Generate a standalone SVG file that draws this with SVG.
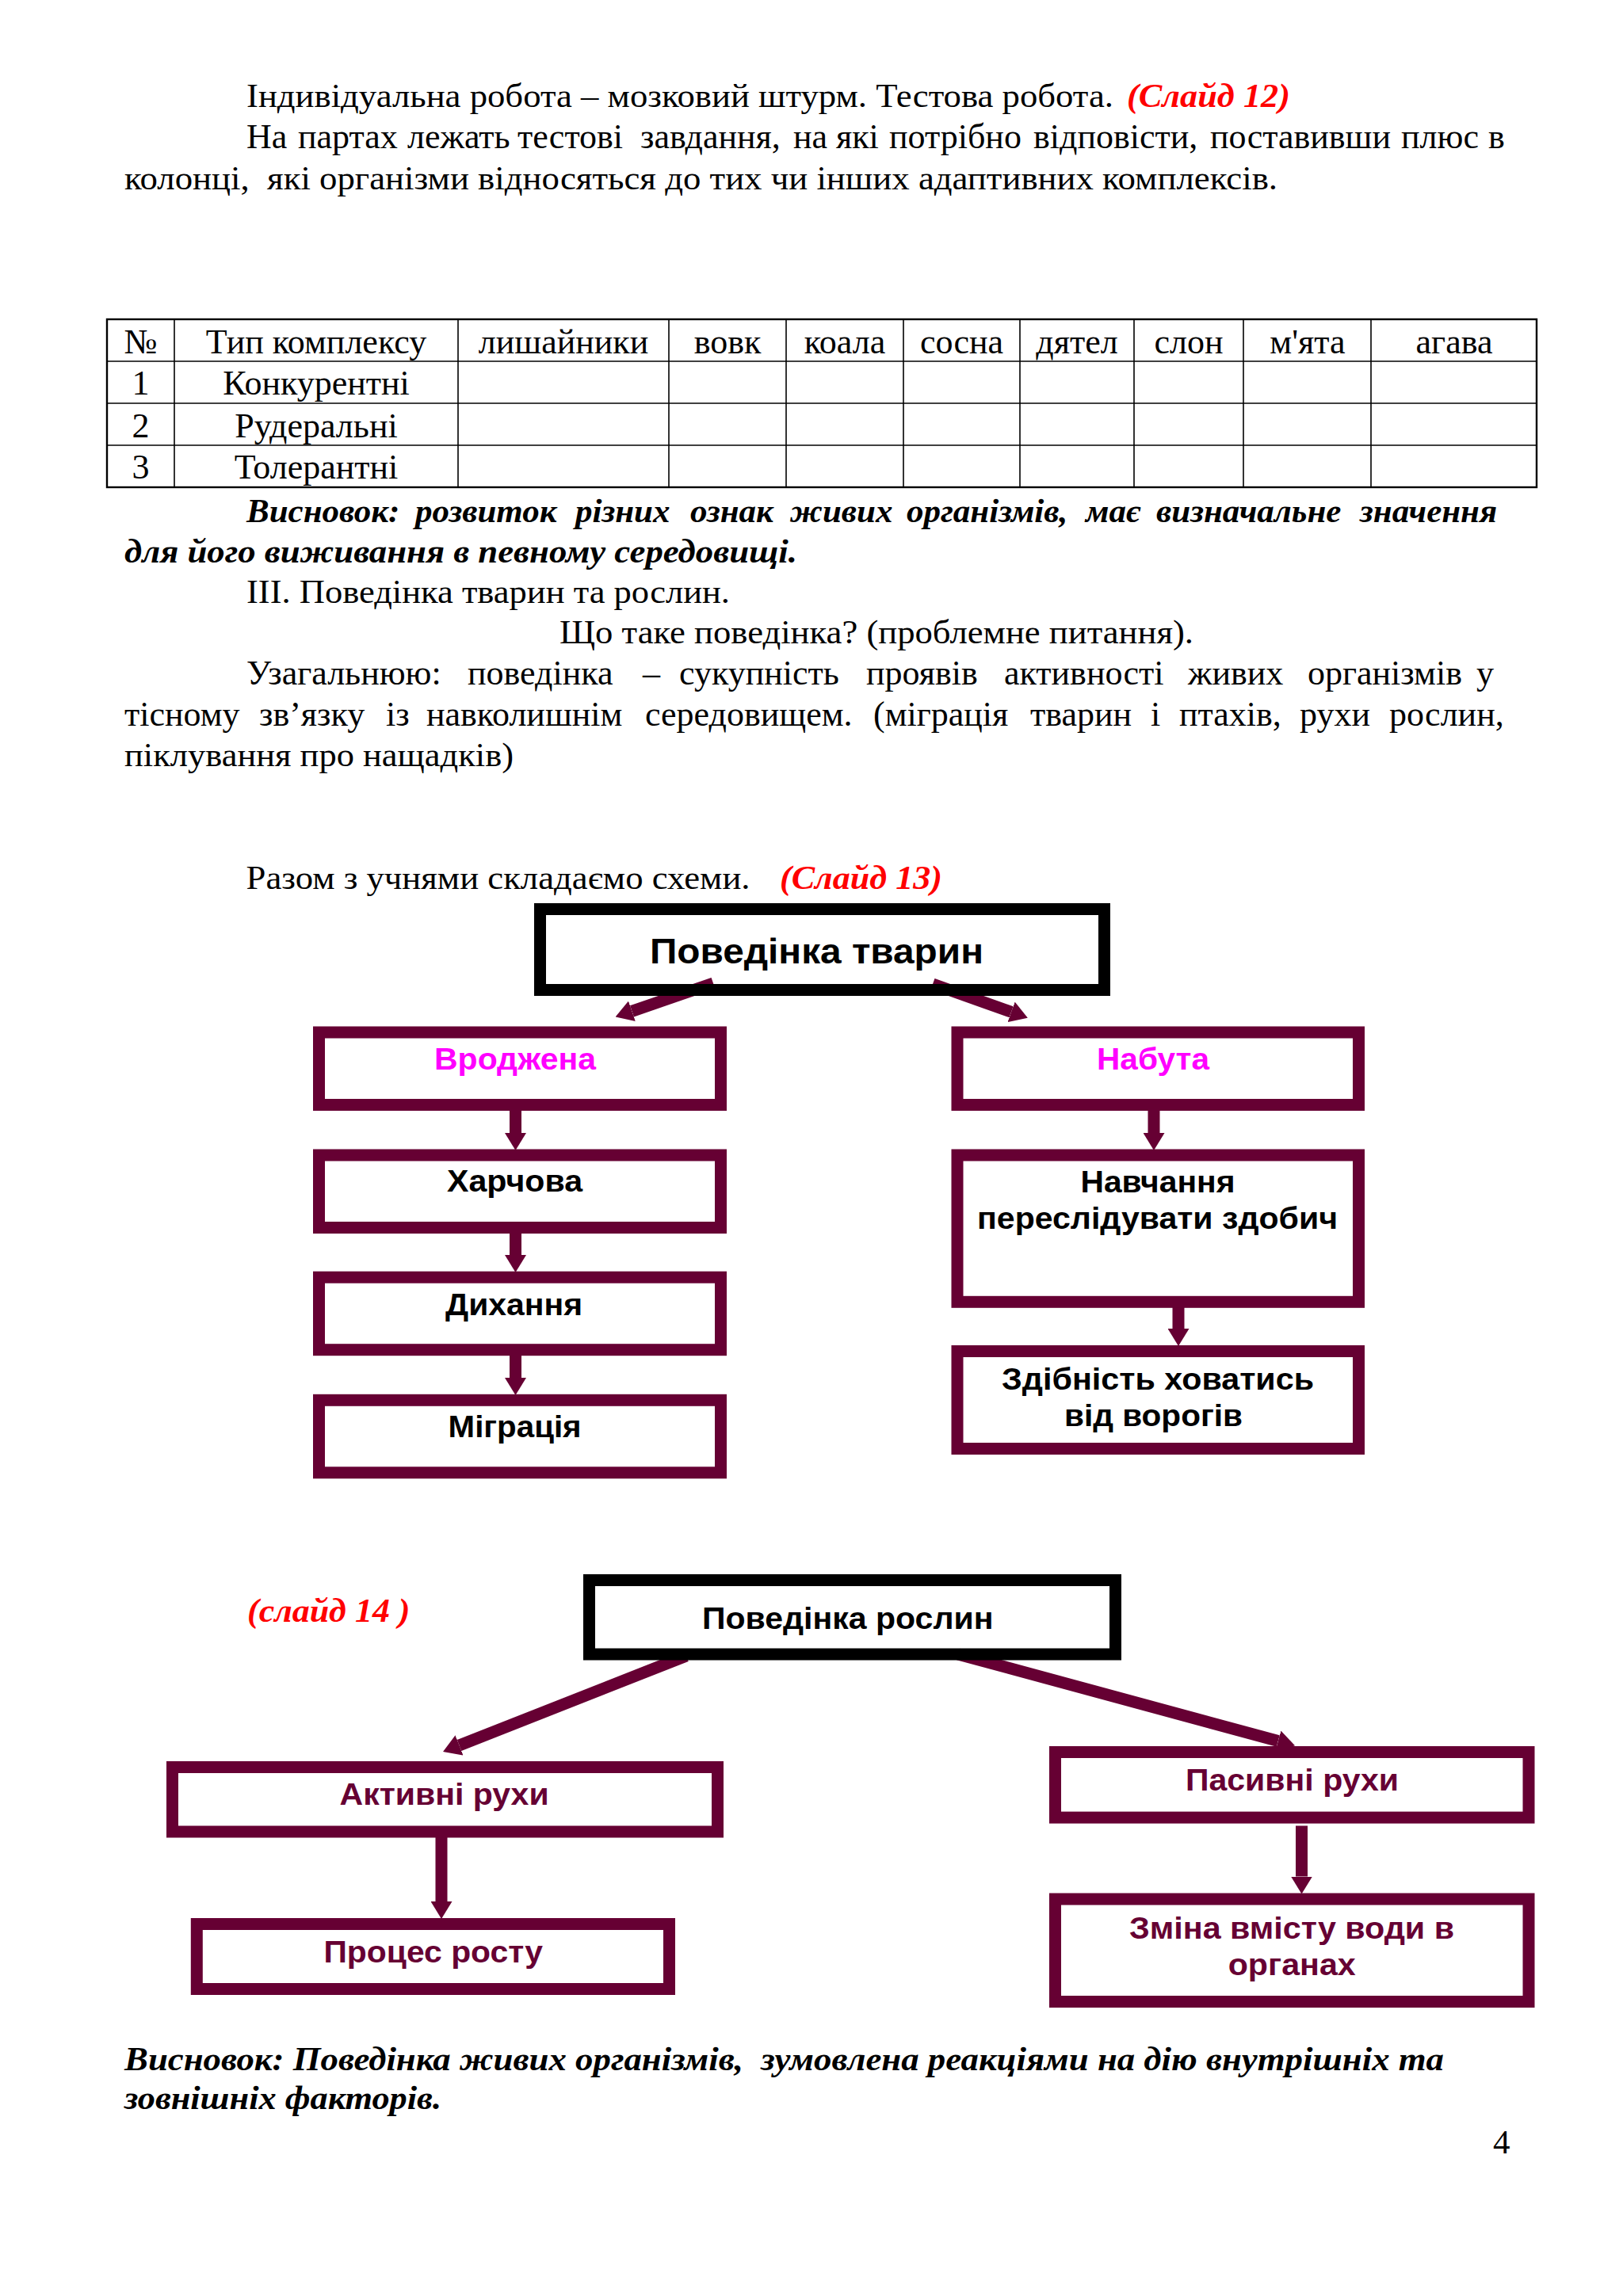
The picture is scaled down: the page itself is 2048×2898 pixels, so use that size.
<svg xmlns="http://www.w3.org/2000/svg" width="2048" height="2898" viewBox="0 0 2048 2898">
<defs>
<style>
.t{font-family:"Liberation Serif","Times New Roman",serif;font-size:43px;fill:#000}
.tb{font-size:44px}
.bi{font-weight:bold;font-style:italic}
.red{fill:#ff0000}
.c{text-anchor:middle}
.d{font-family:"Liberation Sans",Arial,sans-serif;font-weight:bold;font-size:38px;fill:#000}
.mag{fill:#ff00ff}
.mar{fill:#660033}
.bk{fill:none;stroke:#000;stroke-width:15}
.bm{fill:#fff;stroke:#660033;stroke-width:15}
.tl{stroke:#000;stroke-width:1.6;fill:none}
.to{stroke:#000;stroke-width:2.4;fill:none}
.ar{stroke:#660033;stroke-width:15;fill:none;marker-end:url(#ah)}
</style>
<marker id="ah" markerUnits="userSpaceOnUse" markerWidth="22" markerHeight="27" viewBox="0 0 22 27" refX="0" refY="13.5" orient="auto">
<path d="M0,0 L22,13.5 L0,27 Z" fill="#660033"/>
</marker>
</defs>
<rect width="2048" height="2898" fill="#fff"/>

<g id="text-top">
<text class="t" x="311" y="135" textLength="1094" lengthAdjust="spacingAndGlyphs">Індивідуальна робота – мозковий штурм. Тестова робота.</text>
<text class="t bi red" x="1422" y="135" textLength="206" lengthAdjust="spacingAndGlyphs">(Слайд 12)</text>
<text class="t tb" y="187"><tspan x="311">На</tspan> <tspan x="376">партах</tspan> <tspan x="514">лежать</tspan> <tspan x="653">тестові</tspan> <tspan x="808">завдання,</tspan> <tspan x="1001">на</tspan> <tspan x="1055">які</tspan> <tspan x="1122">потрібно</tspan> <tspan x="1304">відповісти,</tspan> <tspan x="1527">поставивши</tspan> <tspan x="1768">плюс</tspan> <tspan x="1878">в</tspan></text>
<text class="t" x="157" y="239" textLength="1455" lengthAdjust="spacingAndGlyphs" xml:space="preserve">колонці,  які організми відносяться до тих чи інших адаптивних комплексів.</text>
</g>

<g id="table">
<rect class="to" x="135" y="403" width="1804" height="212"/>
<line class="tl" x1="135" y1="456" x2="1939" y2="456"/>
<line class="tl" x1="135" y1="509" x2="1939" y2="509"/>
<line class="tl" x1="135" y1="562" x2="1939" y2="562"/>
<line class="tl" x1="220" y1="403" x2="220" y2="615"/>
<line class="tl" x1="578" y1="403" x2="578" y2="615"/>
<line class="tl" x1="844" y1="403" x2="844" y2="615"/>
<line class="tl" x1="992" y1="403" x2="992" y2="615"/>
<line class="tl" x1="1140" y1="403" x2="1140" y2="615"/>
<line class="tl" x1="1287" y1="403" x2="1287" y2="615"/>
<line class="tl" x1="1431" y1="403" x2="1431" y2="615"/>
<line class="tl" x1="1569" y1="403" x2="1569" y2="615"/>
<line class="tl" x1="1730" y1="403" x2="1730" y2="615"/>
<text class="t tb c" x="177.5" y="446">№</text>
<text class="t tb c" x="399" y="446">Тип комплексу</text>
<text class="t tb c" x="711" y="446">лишайники</text>
<text class="t tb c" x="918" y="446">вовк</text>
<text class="t tb c" x="1066" y="446">коала</text>
<text class="t tb c" x="1213.5" y="446">сосна</text>
<text class="t tb c" x="1359" y="446">дятел</text>
<text class="t tb c" x="1500" y="446">слон</text>
<text class="t tb c" x="1650" y="446">м'ята</text>
<text class="t tb c" x="1835" y="446">агава</text>
<text class="t tb c" x="177.5" y="498">1</text>
<text class="t tb c" x="399" y="498">Конкурентні</text>
<text class="t tb c" x="177.5" y="551.5">2</text>
<text class="t tb c" x="399" y="551.5">Рудеральні</text>
<text class="t tb c" x="177.5" y="604">3</text>
<text class="t tb c" x="399" y="604">Толерантні</text>
</g>

<g id="text-middle">
<text class="t bi" y="659"><tspan x="311">Висновок:</tspan> <tspan x="524">розвиток</tspan> <tspan x="726">різних</tspan> <tspan x="871">ознак</tspan> <tspan x="997">живих</tspan> <tspan x="1144">організмів,</tspan> <tspan x="1370">має</tspan> <tspan x="1459">визначальне</tspan> <tspan x="1716">значення</tspan></text>
<text class="t bi" x="157" y="709.5" textLength="849" lengthAdjust="spacingAndGlyphs">для його виживання в певному середовищі.</text>
<text class="t" x="311" y="761" textLength="610" lengthAdjust="spacingAndGlyphs">ІІІ. Поведінка тварин та рослин.</text>
<text class="t" x="706" y="812" textLength="800" lengthAdjust="spacingAndGlyphs">Що таке поведінка? (проблемне питання).</text>
<text class="t tb" y="864"><tspan x="311">Узагальнюю:</tspan> <tspan x="590">поведінка</tspan> <tspan x="811">–</tspan> <tspan x="857">сукупність</tspan> <tspan x="1093">проявів</tspan> <tspan x="1267">активності</tspan> <tspan x="1499">живих</tspan> <tspan x="1650">організмів</tspan> <tspan x="1863">у</tspan></text>
<text class="t tb" y="916"><tspan x="157">тісному</tspan> <tspan x="327">зв’язку</tspan> <tspan x="487">із</tspan> <tspan x="538">навколишнім</tspan> <tspan x="814">середовищем.</tspan> <tspan x="1102">(міграція</tspan> <tspan x="1300">тварин</tspan> <tspan x="1452">і</tspan> <tspan x="1488">птахів,</tspan> <tspan x="1640">рухи</tspan> <tspan x="1753">рослин,</tspan></text>
<text class="t" x="157" y="967" textLength="491" lengthAdjust="spacingAndGlyphs">піклування про нащадків)</text>
<text class="t" x="310.5" y="1122" textLength="636" lengthAdjust="spacingAndGlyphs">Разом з учнями складаємо схеми.</text>
<text class="t bi red" x="984" y="1122" textLength="205" lengthAdjust="spacingAndGlyphs">(Слайд 13)</text>
</g>

<g id="connectors-animals">
<line class="ar" x1="900" y1="1241" x2="797.4" y2="1276.3"/>
<line class="ar" x1="1177" y1="1242" x2="1276.1" y2="1277.3"/>
<line class="ar" x1="650.5" y1="1400" x2="650.5" y2="1430"/>
<line class="ar" x1="650.5" y1="1555" x2="650.5" y2="1584"/>
<line class="ar" x1="650.5" y1="1709" x2="650.5" y2="1739"/>
<line class="ar" x1="1456" y1="1400" x2="1456" y2="1430"/>
<line class="ar" x1="1487" y1="1649" x2="1487" y2="1677"/>
</g>

<g id="n-povedinka-tvaryn">
<rect class="bk" x="681.5" y="1147.5" width="712" height="102"/>
<text class="d" x="820" y="1215.5" style="font-size:45px" textLength="421" lengthAdjust="spacingAndGlyphs">Поведінка тварин</text>
</g>
<g id="n-vrodzhena">
<rect class="bm" x="402.5" y="1303" width="507" height="91.5"/>
<text class="d mag" x="548" y="1350" textLength="204" lengthAdjust="spacingAndGlyphs">Вроджена</text>
</g>
<g id="n-kharchova">
<rect class="bm" x="402.5" y="1458" width="507" height="91.5"/>
<text class="d" x="564" y="1504.4" textLength="171" lengthAdjust="spacingAndGlyphs">Харчова</text>
</g>
<g id="n-dykhannia">
<rect class="bm" x="402.5" y="1612.2" width="507" height="91.5"/>
<text class="d" x="562" y="1659.5" textLength="173" lengthAdjust="spacingAndGlyphs">Дихання</text>
</g>
<g id="n-mihratsiia">
<rect class="bm" x="402.5" y="1767.3" width="507" height="91.5"/>
<text class="d" x="565.6" y="1814" textLength="168" lengthAdjust="spacingAndGlyphs">Міграція</text>
</g>
<g id="n-nabuta">
<rect class="bm" x="1208" y="1303" width="506.5" height="91.5"/>
<text class="d mag" x="1384" y="1350" textLength="142" lengthAdjust="spacingAndGlyphs">Набута</text>
</g>
<g id="n-navchannia">
<rect class="bm" x="1208" y="1458" width="506.5" height="185.3"/>
<text class="d" x="1363.5" y="1505.4" textLength="195" lengthAdjust="spacingAndGlyphs">Навчання</text>
<text class="d" x="1233" y="1551.4" textLength="455" lengthAdjust="spacingAndGlyphs">переслідувати здобич</text>
</g>
<g id="n-zdibnist">
<rect class="bm" x="1208" y="1705.5" width="506.5" height="123"/>
<text class="d" x="1264" y="1753.6" textLength="394" lengthAdjust="spacingAndGlyphs">Здібність ховатись</text>
<text class="d" x="1343" y="1800" textLength="225" lengthAdjust="spacingAndGlyphs">від ворогів</text>
</g>

<g id="label-slide14">
<text class="t bi red" x="312" y="2047" textLength="205.5" lengthAdjust="spacingAndGlyphs" xml:space="preserve">(слайд 14 )</text>
</g>

<g id="connectors-plants">
<line class="ar" x1="866" y1="2090" x2="579.5" y2="2202.9"/>
<line class="ar" x1="1209" y1="2088" x2="1612.8" y2="2197.6"/>
<line class="ar" x1="557" y1="2317" x2="557" y2="2400"/>
<line class="ar" x1="1642.5" y1="2304.4" x2="1642.5" y2="2368.5"/>
</g>

<g id="n-povedinka-roslyn">
<rect class="bk" x="743.5" y="1994.5" width="664" height="93.5"/>
<text class="d" x="886" y="2056.4" textLength="367.5" lengthAdjust="spacingAndGlyphs">Поведінка рослин</text>
</g>
<g id="n-aktyvni">
<rect class="bm" x="217.5" y="2230.5" width="688" height="81.5"/>
<text class="d mar" x="428.6" y="2277.5" textLength="264" lengthAdjust="spacingAndGlyphs">Активні рухи</text>
</g>
<g id="n-protses">
<rect class="bm" x="248.3" y="2428.5" width="596.2" height="82"/>
<text class="d mar" x="408.5" y="2476.6" textLength="276.5" lengthAdjust="spacingAndGlyphs">Процес росту</text>
</g>
<g id="n-pasyvni">
<rect class="bm" x="1331.5" y="2211.5" width="597.5" height="82.6"/>
<text class="d mar" x="1496" y="2259.7" textLength="269" lengthAdjust="spacingAndGlyphs">Пасивні рухи</text>
</g>
<g id="n-zmina">
<rect class="bm" x="1331.5" y="2397" width="597.5" height="129.5"/>
<text class="d mar" x="1425" y="2446.8" textLength="410" lengthAdjust="spacingAndGlyphs">Зміна вмісту води в</text>
<text class="d mar" x="1549.7" y="2492.7" textLength="161" lengthAdjust="spacingAndGlyphs">органах</text>
</g>

<g id="text-bottom">
<text class="t bi" x="157" y="2613" textLength="1665" lengthAdjust="spacingAndGlyphs" xml:space="preserve">Висновок: Поведінка живих організмів,  зумовлена реакціями на дію внутрішніх та</text>
<text class="t bi" x="157" y="2661.5" textLength="400" lengthAdjust="spacingAndGlyphs">зовнішніх факторів.</text>
<text class="t" x="1884" y="2718">4</text>
</g>
</svg>
